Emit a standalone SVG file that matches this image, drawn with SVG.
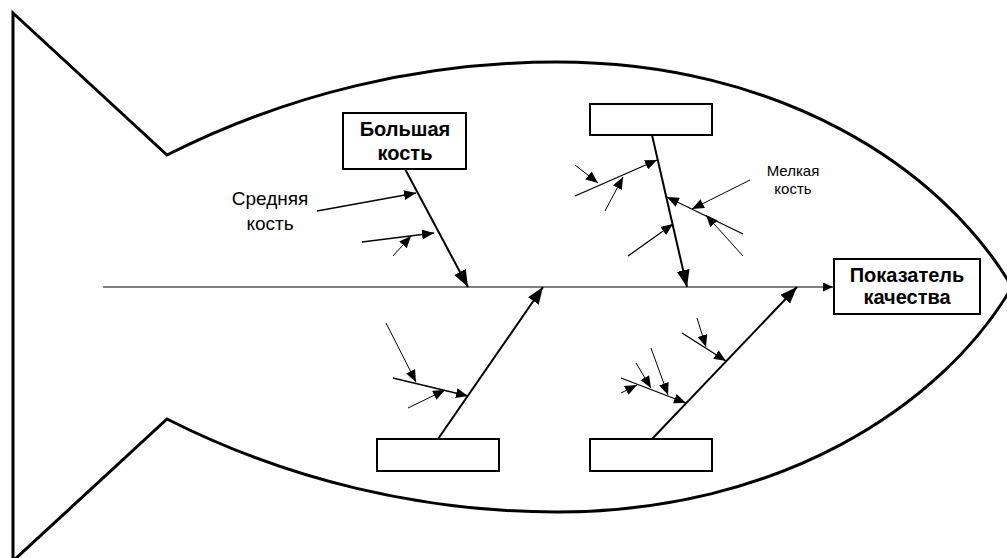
<svg xmlns="http://www.w3.org/2000/svg" width="1007" height="558" viewBox="0 0 1007 558">
  <style>
    .outline { fill: none; stroke: #000; stroke-width: 3; stroke-linejoin: miter; }
    .box { fill: #fff; stroke: #000; stroke-width: 2; }
    .spine { stroke: #000; stroke-width: 1.2; fill: none; }
    .bone { stroke: #000; stroke-width: 2; fill: none; }
    .mid { stroke: #000; stroke-width: 1.3; fill: none; }
    .small { stroke: #000; stroke-width: 1; fill: none; }
    .bold { font-family: "Liberation Sans", Arial, sans-serif; font-weight: bold; font-size: 20px; fill: #000; text-anchor: middle; }
    .label { font-family: "Liberation Sans", Arial, sans-serif; font-size: 19px; fill: #000; text-anchor: middle; }
    .label-sm { font-family: "Liberation Sans", Arial, sans-serif; font-size: 15px; fill: #000; text-anchor: middle; }
  </style>
  <defs>
    <marker id="ah-lg" markerUnits="userSpaceOnUse" markerWidth="18" markerHeight="13" refX="17" refY="6.5" orient="auto">
      <path d="M0,0 L17,6.5 L0,13 z" fill="#000"/>
    </marker>
    <marker id="ah-md" markerUnits="userSpaceOnUse" markerWidth="13" markerHeight="10" refX="12" refY="5" orient="auto">
      <path d="M0,0 L12,5 L0,10 z" fill="#000"/>
    </marker>
    <marker id="ah-sp" markerUnits="userSpaceOnUse" markerWidth="11" markerHeight="9" refX="10" refY="4.5" orient="auto">
      <path d="M0,0 L10,4.5 L0,9 z" fill="#000"/>
    </marker>
  </defs>

  <!-- fish outline: tail plus body -->
  <path id="fish" class="outline" d="M13,13 L167,155 C287.7,93.9 421.7,62 557,62 C777,62 941,166 1012,287 C941,408 777,512 557,512 C421.7,512 287.7,480.1 167,419 L13,561 Z"/>

  <g id="connectors">
    <!-- spine -->
    <line class="spine" x1="103" y1="287" x2="833" y2="287" marker-end="url(#ah-sp)"/>

    <!-- big bones -->
    <line class="bone" x1="405" y1="169" x2="468" y2="287" marker-end="url(#ah-lg)"/>
    <line class="bone" x1="652" y1="135" x2="687" y2="287" marker-end="url(#ah-lg)"/>
    <line class="bone" x1="438" y1="439" x2="543" y2="287" marker-end="url(#ah-lg)"/>
    <line class="bone" x1="652" y1="439" x2="797" y2="287" marker-end="url(#ah-lg)"/>

    <!-- bone 1 branches -->
    <line class="mid" x1="317" y1="211" x2="416" y2="193" marker-end="url(#ah-md)"/>
    <line class="mid" x1="362" y1="242" x2="434" y2="233" marker-end="url(#ah-md)"/>
    <line class="small" x1="393" y1="256" x2="411" y2="236" marker-end="url(#ah-md)"/>

    <!-- bone 2 branches -->
    <line class="mid" x1="575" y1="196" x2="657" y2="160" marker-end="url(#ah-md)"/>
    <line class="small" x1="575" y1="165" x2="598" y2="183" marker-end="url(#ah-md)"/>
    <line class="small" x1="605" y1="211" x2="623" y2="177" marker-end="url(#ah-md)"/>
    <line class="mid" x1="743" y1="234" x2="667" y2="197" marker-end="url(#ah-md)"/>
    <line class="small" x1="750" y1="180" x2="692" y2="209" marker-end="url(#ah-md)"/>
    <line class="small" x1="743" y1="256" x2="706" y2="215" marker-end="url(#ah-md)"/>
    <line class="mid" x1="628" y1="256" x2="673" y2="224" marker-end="url(#ah-md)"/>

    <!-- bone 3 branches -->
    <line class="mid" x1="393" y1="378" x2="468" y2="396" marker-end="url(#ah-md)"/>
    <line class="small" x1="386" y1="323" x2="416" y2="382" marker-end="url(#ah-md)"/>
    <line class="small" x1="408" y1="408" x2="445" y2="390" marker-end="url(#ah-md)"/>

    <!-- bone 4 branches -->
    <line class="mid" x1="682" y1="333" x2="726" y2="361" marker-end="url(#ah-md)"/>
    <line class="small" x1="697" y1="318" x2="706" y2="347" marker-end="url(#ah-md)"/>
    <line class="mid" x1="621" y1="378" x2="686" y2="403" marker-end="url(#ah-md)"/>
    <line class="small" x1="636" y1="363" x2="651" y2="388" marker-end="url(#ah-md)"/>
    <line class="small" x1="651" y1="348" x2="668" y2="395" marker-end="url(#ah-md)"/>
    <line class="small" x1="621" y1="393" x2="637" y2="385" marker-end="url(#ah-md)"/>
  </g>

  <g id="node-big-bone">
    <rect class="box" x="343" y="113" width="123" height="56"/>
    <text class="bold" x="405" y="136">Большая</text>
    <text class="bold" x="405" y="160">кость</text>
  </g>

  <g id="node-top-right">
    <rect class="box" x="590" y="104" width="122" height="31"/>
  </g>

  <g id="node-bottom-left">
    <rect class="box" x="377" y="439" width="122" height="32"/>
  </g>

  <g id="node-bottom-right">
    <rect class="box" x="590" y="439" width="122" height="32"/>
  </g>

  <g id="node-result">
    <rect class="box" x="834" y="259" width="146" height="55" stroke-width="1.5"/>
    <text class="bold" x="907" y="282">Показатель</text>
    <text class="bold" x="907" y="304">качества</text>
  </g>

  <g id="label-medium">
    <text class="label" x="270" y="205">Средняя</text>
    <text class="label" x="270" y="230">кость</text>
  </g>

  <g id="label-small">
    <text class="label-sm" x="793" y="176">Мелкая</text>
    <text class="label-sm" x="793" y="194">кость</text>
  </g>
</svg>
